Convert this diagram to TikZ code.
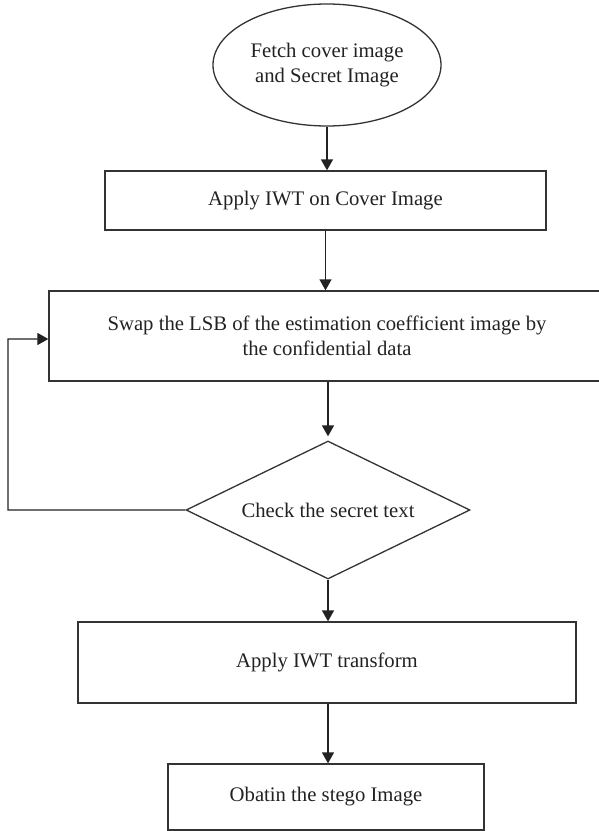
\documentclass[tikz,border=0pt]{standalone}
\usepackage{fontspec}
\setmainfont{Liberation Serif}
\usetikzlibrary{shapes.geometric,arrows.meta}
\definecolor{ink}{HTML}{222222}
\definecolor{edge}{HTML}{333333}
\begin{document}
\begin{tikzpicture}[x=1bp,y=-1bp,
  font=\fontsize{20.7bp}{25bp}\selectfont,
  base/.style={draw=edge, line width=1.3bp, text=ink, align=center, inner sep=0pt},
  startnode/.style={base, ellipse},
  procbox/.style={base, rectangle},
  decision/.style={base, diamond, shape aspect=2.06},
  flow/.style={draw=ink, line width=1.3bp, -{Triangle[length=11bp,width=12bp]}}
]
\clip (0,0) rectangle (599,831);

% process steps
\node[startnode, minimum width=228bp, minimum height=122bp] (fetch) at (327,65)
  {Fetch cover image\\and Secret Image};
\node[procbox, minimum width=441bp, minimum height=59bp] (iwt) at (325.5,200.5)
  {Apply IWT on Cover Image};
\node[procbox, minimum width=556bp, minimum height=90bp] (swap) at (327,336)
  {Swap the LSB of the estimation coefficient image by\\the confidential data};
\node[decision, minimum width=284bp, minimum height=138bp] (check) at (328,510)
  {Check the secret text};
\node[procbox, minimum width=498bp, minimum height=81bp] (inv) at (327,662.5)
  {Apply IWT transform};
\node[procbox, minimum width=316bp, minimum height=66bp] (stego) at (326,797)
  {Obatin the stego Image};

% connectors
\draw[flow] (fetch.south) -- (fetch.south |- iwt.north);
\draw[flow] (iwt.south) -- (iwt.south |- swap.north);
\draw[flow, shorten >=4bp] (check.north |- swap.south) -- (check.north);
\draw[flow] (check.south) -- (check.south |- inv.north);
\draw[flow] (check.south |- inv.south) -- (check.south |- stego.north);

% feedback loop back to the embedding step
\coordinate (loopcorner) at (8,339);
\draw[flow] (check.west) -| (loopcorner) -- ([yshift=-3bp]swap.west);
\end{tikzpicture}
\end{document}
